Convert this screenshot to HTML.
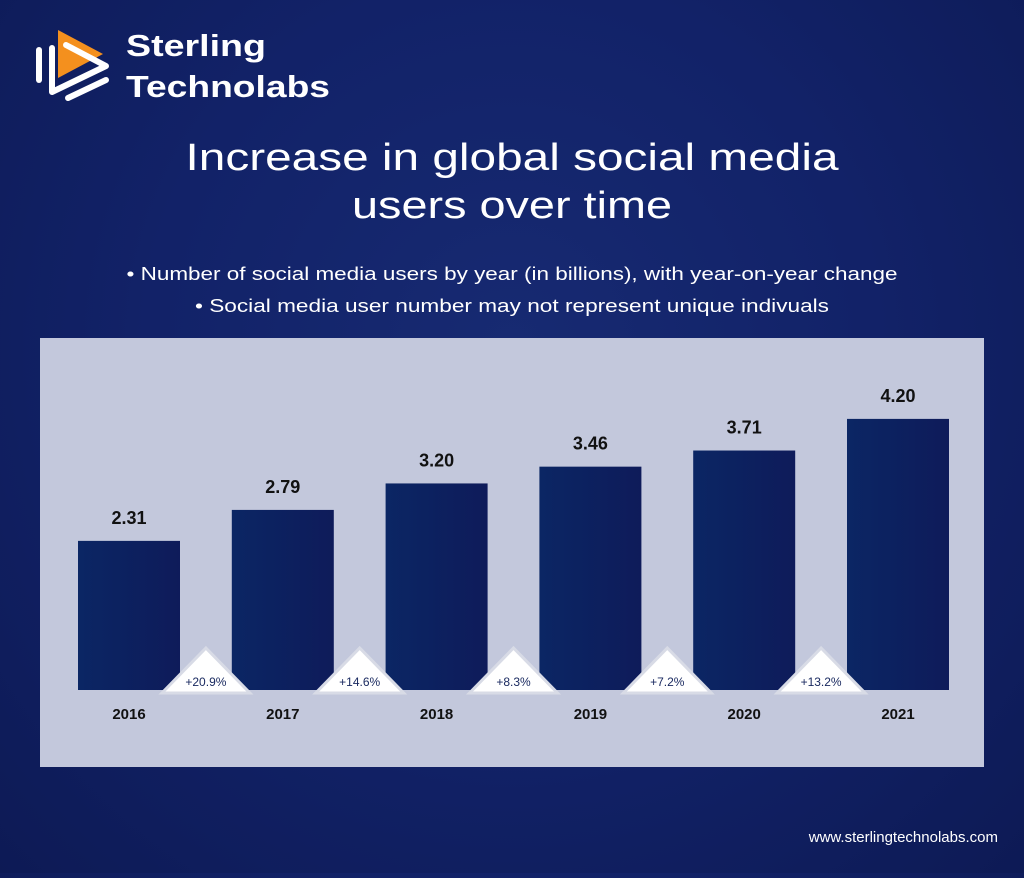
<!DOCTYPE html>
<html><head><meta charset="utf-8"><style>
body{margin:0;width:1024px;height:873px;overflow:hidden;background:radial-gradient(ellipse at 50% 40%,#172a72 0%,#122268 50%,#0d1a55 100%);font-family:"Liberation Sans",sans-serif;}
</style></head><body>
<svg width="1024" height="873">
<g>
<polygon points="58,30 103,54 58,78" fill="#f4901e"/>
<path d="M39,50 L39,80" stroke="#fff" stroke-width="6" stroke-linecap="round" fill="none"/>
<path d="M52,48 L52,92 L106,66 L66,45" stroke="#fff" stroke-width="6" stroke-linecap="round" stroke-linejoin="round" fill="none"/>
<path d="M68,98 L106,80" stroke="#fff" stroke-width="6" stroke-linecap="round"/>
<text x="126" y="56" fill="#fff" font-size="31" font-weight="bold" textLength="140" lengthAdjust="spacingAndGlyphs">Sterling</text>
<text x="126" y="97" fill="#fff" font-size="31" font-weight="bold" textLength="204" lengthAdjust="spacingAndGlyphs">Technolabs</text>
</g>
<text x="512" y="170" text-anchor="middle" fill="#fff" font-size="38" textLength="653" lengthAdjust="spacingAndGlyphs">Increase in global social media</text>
<text x="512" y="218" text-anchor="middle" fill="#fff" font-size="38" textLength="320" lengthAdjust="spacingAndGlyphs">users over time</text>
<text x="512" y="280" text-anchor="middle" fill="#fff" font-size="18" textLength="771" lengthAdjust="spacingAndGlyphs">• Number of social media users by year (in billions), with year-on-year change</text>
<text x="512" y="312" text-anchor="middle" fill="#fff" font-size="18" textLength="634" lengthAdjust="spacingAndGlyphs">• Social media user number may not represent unique indivuals</text>
<rect x="40" y="338" width="944" height="429" fill="#c3c8dc"/>
<defs><linearGradient id="bg" x1="0" x2="1"><stop offset="0" stop-color="#0b2664"/><stop offset="1" stop-color="#0e1b5a"/></linearGradient></defs>
<g id="bars"></g>
<g id="tris"></g>
<text x="998" y="842" text-anchor="end" fill="#fff" font-size="15">www.sterlingtechnolabs.com</text>
</svg>
<script>
const years=["2016","2017","2018","2019","2020","2021"];
const users=[2.31,2.79,3.20,3.46,3.71,4.20];
const changes=["+20.9%","+14.6%","+8.3%","+7.2%","+13.2%"];
const ns="http://www.w3.org/2000/svg";
const x0=78,step=153.8,bw=102,base=690,k=64.55;
const xS=i=>x0+i*step, yS=v=>base-v*k;
const bars=document.getElementById('bars'),tris=document.getElementById('tris');
function mk(t,a,p){const e=document.createElementNS(ns,t);for(const n in a)e.setAttribute(n,a[n]);p.appendChild(e);return e;}
users.forEach((v,i)=>{
 const r=mk('rect',{x:xS(i),y:yS(v),width:bw,height:v*k,fill:'url(#bg)'},bars);
 
 
 const t=mk('text',{x:xS(i)+bw/2,y:yS(v)-17,'text-anchor':'middle','font-size':18,'font-weight':'bold',fill:'#111'},bars);
 t.textContent=v.toFixed(2);
 
 
 const y=mk('text',{x:xS(i)+bw/2,y:719,'text-anchor':'middle','font-size':15,'font-weight':'bold',fill:'#111'},bars);
 y.textContent=years[i];
 
 
});
changes.forEach((c,i)=>{
 const cx=xS(i)+bw+(step-bw)/2;
 const p=mk('polygon',{points:`${cx-44},693 ${cx},648 ${cx+44},693`,fill:'#fff',stroke:'#d8dbe6','stroke-width':3},tris);
 
 
 const t=mk('text',{x:cx,y:686,'text-anchor':'middle','font-size':12,fill:'#1a2a60'},tris);
 t.textContent=c;
 
 
});
</script>
</body></html>
